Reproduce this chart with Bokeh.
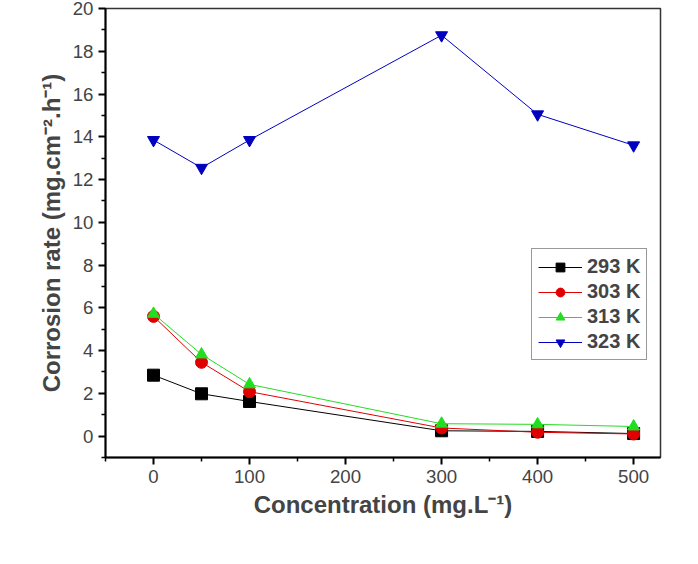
from bokeh.plotting import figure
from bokeh.models import Legend, LegendItem, Range1d, FixedTicker
from bokeh.embed import file_html
from bokeh.resources import INLINE

conc = [0, 50, 100, 300, 400, 500]
r293 = [2.85, 1.98, 1.62, 0.25, 0.22, 0.12]
r303 = [5.6, 3.45, 2.08, 0.38, 0.18, 0.10]
r313 = [5.72, 3.82, 2.42, 0.58, 0.55, 0.45]
r323 = [13.85, 12.55, 13.85, 18.75, 15.05, 13.6]
labels = ["293 K", "303 K", "313 K", "323 K"]

p = figure(frame_width=555, frame_height=449, output_backend="svg", toolbar_location=None,
           x_range=Range1d(-50, 528), y_range=Range1d(-1, 20),
           min_border_left=105, min_border_right=20, min_border_top=8, min_border_bottom=80)
p.xgrid.visible = False
p.ygrid.visible = False
p.outline_line_color = "#333333"
p.outline_line_width = 1.5

series = [(r293, "black", "square"), (r303, "#e00000", "circle"),
          (r313, "#22dd22", "triangle"), (r323, "#0000c0", "inverted_triangle")]
items = []
for (vals, col, mk), lab in zip(series, labels):
    l = p.line(conc, vals, line_color=col, line_width=1)
    s = p.scatter(conc, vals, marker=mk, size=12, fill_color=col, line_color=col)
    items.append(LegendItem(label=lab, renderers=[l, s]))

leg = Legend(items=items, location=(426, 97), label_text_font="Arial",
             label_text_font_size="15pt", label_text_font_style="bold",
             border_line_color="#333333", border_line_width=1, glyph_width=44,
             spacing=2, padding=6, margin=0, label_height=22, glyph_height=22)
p.add_layout(leg, "center")

for ax in (p.xaxis, p.yaxis):
    ax.axis_line_width = 2
    ax.major_tick_line_width = 2
    ax.minor_tick_line_width = 1.5
    ax.major_tick_out = 7
    ax.minor_tick_out = 4
    ax.major_tick_in = 0
    ax.minor_tick_in = 0
    ax.major_label_text_font = "Arial"
    ax.major_label_text_font_size = "14pt"
    ax.axis_label_text_font = "Arial"
    ax.axis_label_text_font_size = "18pt"
    ax.axis_label_text_font_style = "bold"
p.xaxis.ticker = FixedTicker(ticks=[0, 100, 200, 300, 400, 500],
                             minor_ticks=[-50, 50, 150, 250, 350, 450])
p.yaxis.ticker = FixedTicker(ticks=list(range(0, 21, 2)),
                             minor_ticks=[-1] + list(range(1, 20, 2)))
p.xaxis.axis_label = "Concentration (mg.L⁻¹)"
p.yaxis.axis_label = "Corrosion rate (mg.cm⁻².h⁻¹)"

open("out.html", "w").write(file_html(p, INLINE))
